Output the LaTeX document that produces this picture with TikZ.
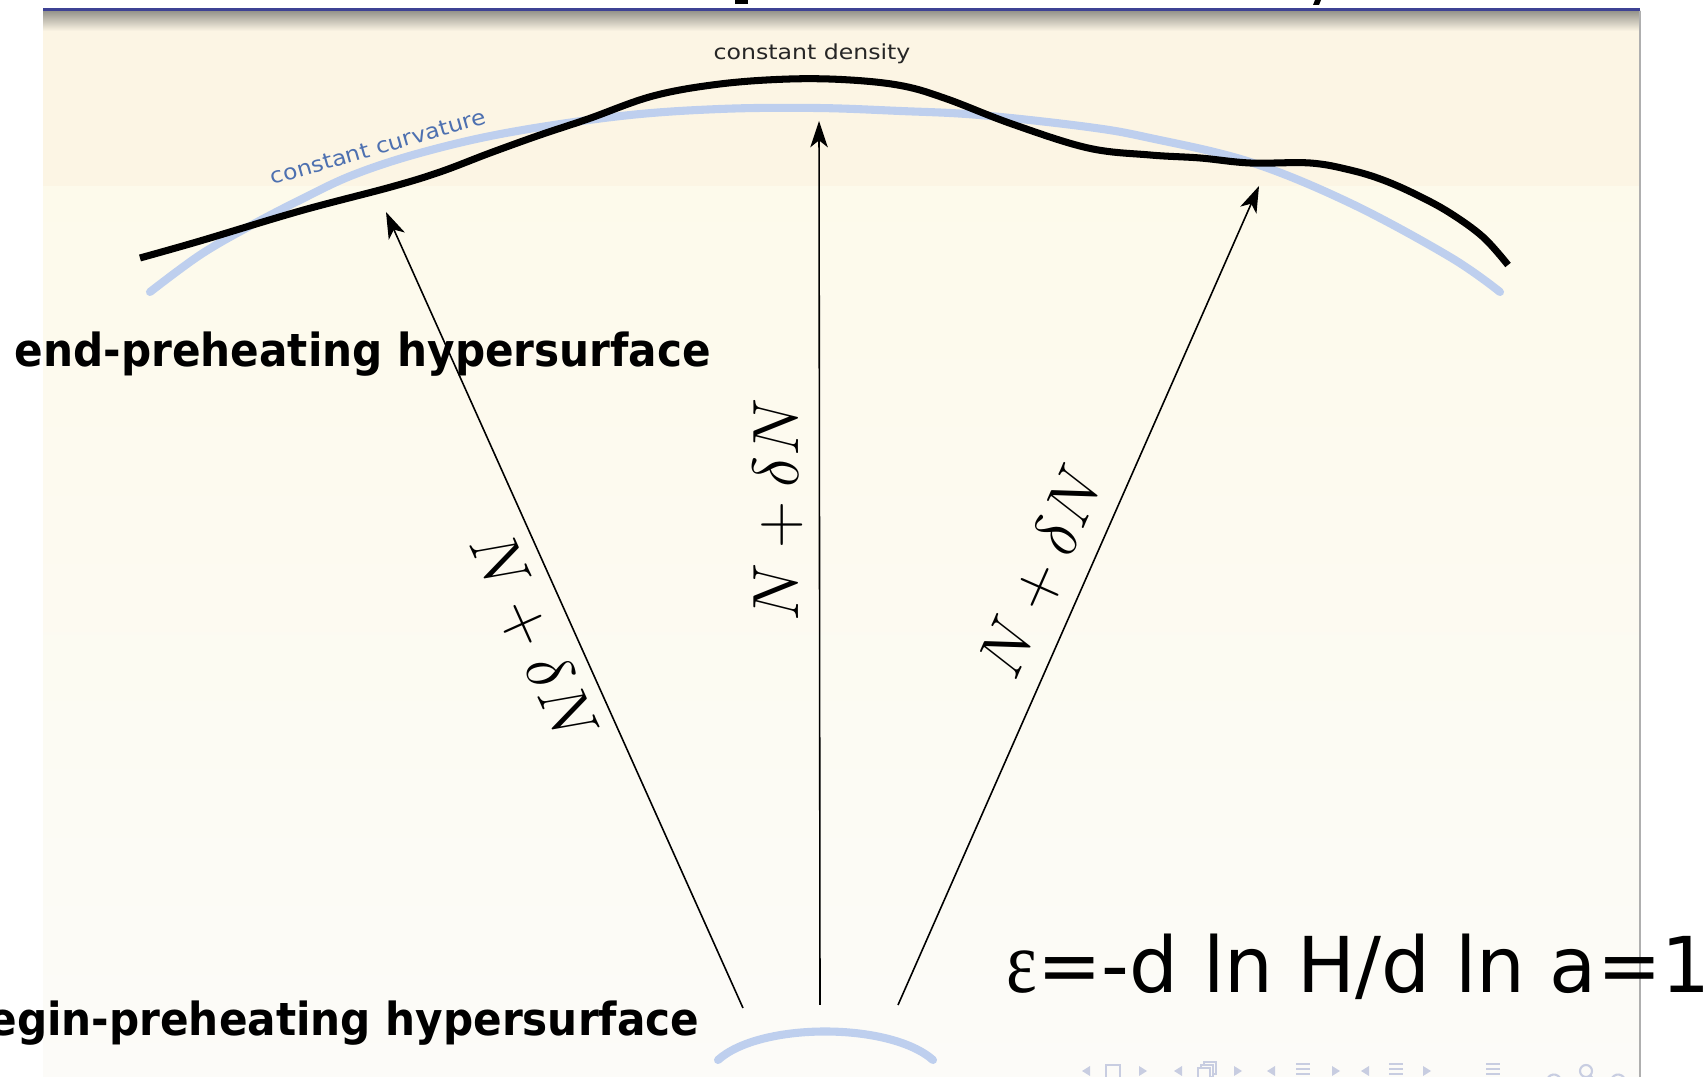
\documentclass[tikz,border=0pt]{standalone}
\usepackage{fontspec}
\newfontfamily\djv{DejaVu Sans}
\newfontfamily\lserif{Liberation Serif}
\usetikzlibrary{arrows.meta}
\definecolor{creamA}{RGB}{252,245,228}
\definecolor{creamB}{RGB}{253,250,235}
\definecolor{creamC}{RGB}{252,251,248}
\definecolor{topgray}{RGB}{150,148,140}
\definecolor{barblue}{RGB}{62,66,148}
\definecolor{curvblue}{RGB}{190,207,238}
\definecolor{labblue}{RGB}{77,112,176}
\definecolor{navc}{RGB}{200,205,225}
\definecolor{edgegray}{RGB}{175,175,175}
\newcommand{\ndn}{\scalebox{1.076}{\fontsize{17.28}{20}\selectfont$N+\delta N$}}
\newcommand{\tallb}[1]{\scalebox{1}[1.08]{#1}}
\begin{document}
\begin{tikzpicture}[x=0.01cm,y=-0.01cm,
  arr/.style={line width=0.45pt,-{Stealth[length=7.5pt,width=5pt,inset=2pt]}},
  nlab/.style={inner sep=0},
  boldlab/.style={inner sep=0,font=\djv\bfseries\fontsize{12}{14}\selectfont},
  navsym/.style={navc,line width=0.6pt}]
\clip (0,0) rectangle (1706,1077);
\fill[white] (0,0) rectangle (1706,1077);
% slide panel
\fill[creamA] (43,11) rectangle (1640,187);
\shade[top color=creamB,bottom color=creamC] (43,187) rectangle (1640,1077);
\shade[top color=topgray,bottom color=creamA] (43,11) rectangle (1640,31);
\fill[barblue] (43,8.5) rectangle (1640,11.5);
% title remnants
\fill[black] (735,0) rectangle (748,4);
\fill[black] (1315,0) -- (1321,0) -- (1319,5) -- (1313,5) -- cycle;
% constant curvature surfaces
\draw[curvblue,line width=2.3pt,line cap=round] plot[smooth,tension=0.6] coordinates {
 (150,292) (200,255) (250,226) (300,200) (353,175) (420,153) (506,133) (621,116)
 (720,109) (816,108) (900,111) (979,115) (1088,127) (1150,138) (1250,162)
 (1350,203) (1450,257) (1500,292)};
\draw[curvblue,line width=2.3pt,line cap=round] (718,1060) .. controls (760,1022) and (890,1022) .. (933,1060);
% constant density surface
\draw[black,line width=2pt] plot[smooth,tension=0.6] coordinates {
 (140,258) (200,241) (300,211) (391,187) (440,172) (490,153) (540,135) (588,119)
 (653,96) (720,84) (790,79) (850,80) (903,86) (947,99) (1012,124) (1088,148)
 (1150,155) (1200,158) (1250,163) (1310,163) (1350,170) (1383,180) (1417,195)
 (1450,213) (1483,237) (1508,265)};
% arrows
\coordinate (lb) at (743,1008); \coordinate (lt) at (386,212);
\coordinate (mb) at (820,1005); \coordinate (mt) at (819,121);
\coordinate (rb) at (898,1005); \coordinate (rt) at (1259,186);
\draw[arr] (lb) -- (lt);
\draw[arr] (mb) -- (mt);
\draw[arr] (rb) -- (rt);
\node[nlab,rotate=-65.8] (nl) at (533,637) {\ndn};
\node[nlab,rotate=90] (nm) at (778,510) {\ndn};
\node[nlab,rotate=66.2] (nr) at (1042,572) {\ndn};
% curve labels
\node[inner sep=0,text=black!85,font=\djv\fontsize{5.6}{6}\selectfont] (cd) at (812,54) {\scalebox{1.2}[1.05]{constant density}};
\node[inner sep=0,text=labblue,rotate=16,font=\djv\fontsize{5.8}{6}\selectfont] (cc) at (378,147) {\scalebox{1.15}[1.05]{constant curvature}};
% right border of slide
\draw[edgegray,line width=0.4pt] (1640,11) -- (1640,1077);
% slide texts
\node[boldlab,anchor=base west] (endlab) at (14,367) {\tallb{end-preheating hypersurface}};
\node[boldlab,anchor=base east] (beglab) at (700,1036) {\tallb{begin-preheating hypersurface}};
\node[inner sep=0,anchor=base west,font=\djv\fontsize{21.9}{26}\selectfont] (eps) at (1006,993) {{\lserif\scalebox{0.95}[1.15]{ε}}=-d ln H/d ln a=1};
% navigation symbols
\foreach \x in {1086,1178,1271,1365} \fill[navc] (\x+4,1066) -- (\x-4,1071) -- (\x+4,1076) -- cycle;
\foreach \x in {1143,1238,1336,1427} \fill[navc] (\x-4,1066) -- (\x+4,1071) -- (\x-4,1076) -- cycle;
\draw[navsym] (1106,1065) rectangle (1120,1079);
\draw[navsym] (1198,1068) rectangle (1210,1080);
\draw[navsym] (1201,1068) -- (1201,1065) -- (1213,1065) -- (1213,1077) -- (1210,1077);
\draw[navsym] (1204,1065) -- (1204,1062) -- (1216,1062) -- (1216,1074) -- (1213,1074);
\foreach \x in {1303,1396,1493} \foreach \y in {1064,1069,1074} \draw[navsym] (\x-7,\y) -- (\x+7,\y);
\draw[navsym] (1560,1078) arc[start angle=-30,end angle=-200,radius=7];
\draw[navsym] (1586,1071) circle[radius=6];
\draw[navsym] (1590,1075) -- (1594,1080);
\draw[navsym] (1612,1078) arc[start angle=210,end angle=380,radius=7];
\end{tikzpicture}
\end{document}
